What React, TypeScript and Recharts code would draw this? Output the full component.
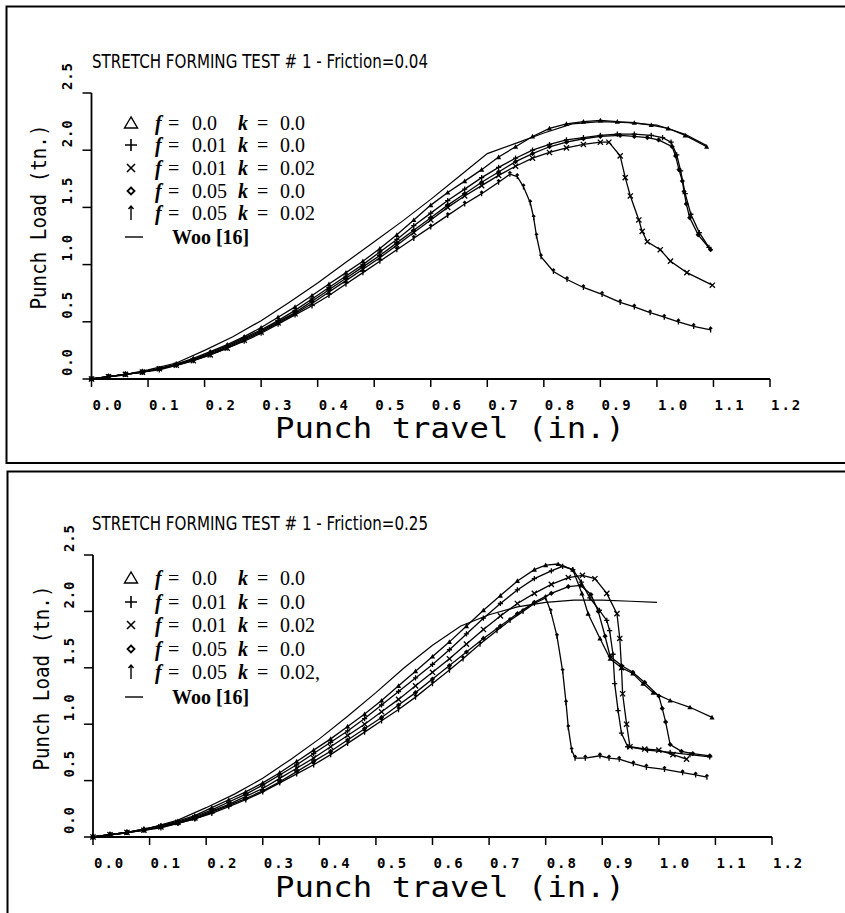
import React from "react";
import { LineChart, Line, XAxis, YAxis } from "recharts";

type Pt = [number, number];

const xTicks = [0, 0.1, 0.2, 0.3, 0.4, 0.5, 0.6, 0.7, 0.8, 0.9, 1.0, 1.1, 1.2];
const yTicks = [0, 0.5, 1.0, 1.5, 2.0, 2.5];

// Friction = 0.04
const topTri: Pt[] = [[0,0],[0.03,0.02],[0.06,0.04],[0.09,0.06],[0.12,0.09],[0.15,0.13],[0.18,0.18],[0.21,0.24],[0.24,0.3],[0.27,0.37],[0.3,0.45],[0.33,0.54],[0.36,0.63],[0.39,0.73],[0.42,0.83],[0.45,0.93],[0.48,1.03],[0.51,1.14],[0.54,1.26],[0.57,1.39],[0.6,1.52],[0.63,1.63],[0.66,1.73],[0.69,1.83],[0.72,1.94],[0.75,2.03],[0.78,2.12],[0.81,2.19],[0.84,2.23],[0.87,2.25],[0.9,2.26],[0.93,2.25],[0.96,2.24],[0.99,2.22],[1.02,2.19],[1.05,2.13],[1.088,2.03]];
const topPlus: Pt[] = [[0,0],[0.03,0.02],[0.06,0.04],[0.09,0.06],[0.12,0.09],[0.15,0.13],[0.18,0.17],[0.21,0.23],[0.24,0.29],[0.27,0.36],[0.3,0.43],[0.33,0.51],[0.36,0.6],[0.39,0.7],[0.42,0.8],[0.45,0.9],[0.48,1.0],[0.51,1.11],[0.54,1.22],[0.57,1.34],[0.6,1.45],[0.63,1.56],[0.66,1.66],[0.69,1.76],[0.72,1.85],[0.75,1.93],[0.78,2.0],[0.81,2.05],[0.84,2.09],[0.87,2.11],[0.9,2.13],[0.93,2.14],[0.96,2.14],[0.99,2.13],[1.01,2.11],[1.025,2.07],[1.035,1.96],[1.042,1.82],[1.05,1.62],[1.06,1.44],[1.075,1.28],[1.092,1.15]];
const topCross: Pt[] = [[0,0],[0.03,0.02],[0.06,0.04],[0.09,0.06],[0.12,0.09],[0.15,0.12],[0.18,0.16],[0.21,0.21],[0.24,0.27],[0.27,0.34],[0.3,0.41],[0.33,0.49],[0.36,0.57],[0.39,0.66],[0.42,0.76],[0.45,0.86],[0.48,0.96],[0.51,1.06],[0.54,1.17],[0.57,1.28],[0.6,1.39],[0.63,1.5],[0.66,1.6],[0.69,1.69],[0.72,1.78],[0.75,1.86],[0.78,1.93],[0.81,1.98],[0.84,2.02],[0.87,2.05],[0.9,2.07],[0.915,2.07],[0.935,1.95],[0.944,1.76],[0.953,1.6],[0.968,1.39],[0.974,1.29],[0.983,1.2],[1.006,1.13],[1.024,1.03],[1.053,0.93],[1.098,0.82]];
const topDiamond: Pt[] = [[0,0],[0.03,0.02],[0.06,0.04],[0.09,0.06],[0.12,0.09],[0.15,0.12],[0.18,0.17],[0.21,0.22],[0.24,0.28],[0.27,0.35],[0.3,0.42],[0.33,0.5],[0.36,0.58],[0.39,0.68],[0.42,0.78],[0.45,0.88],[0.48,0.98],[0.51,1.08],[0.54,1.19],[0.57,1.3],[0.6,1.41],[0.63,1.52],[0.66,1.62],[0.69,1.72],[0.72,1.81],[0.75,1.9],[0.78,1.97],[0.81,2.03],[0.84,2.07],[0.87,2.1],[0.9,2.12],[0.935,2.13],[0.96,2.12],[0.983,2.11],[1.003,2.09],[1.027,2.03],[1.033,1.95],[1.039,1.83],[1.045,1.73],[1.048,1.64],[1.052,1.53],[1.058,1.41],[1.073,1.26],[1.095,1.13]];
const topArrow: Pt[] = [[0,0],[0.03,0.02],[0.06,0.04],[0.09,0.06],[0.12,0.08],[0.15,0.12],[0.18,0.16],[0.21,0.21],[0.24,0.27],[0.27,0.33],[0.3,0.4],[0.33,0.48],[0.36,0.56],[0.39,0.64],[0.42,0.73],[0.45,0.83],[0.48,0.93],[0.51,1.03],[0.54,1.13],[0.57,1.23],[0.6,1.33],[0.63,1.43],[0.66,1.53],[0.69,1.62],[0.72,1.72],[0.74,1.79],[0.753,1.77],[0.764,1.68],[0.776,1.54],[0.782,1.41],[0.787,1.25],[0.795,1.07],[0.817,0.94],[0.841,0.87],[0.87,0.8],[0.903,0.74],[0.935,0.67],[0.96,0.63],[0.988,0.58],[1.013,0.54],[1.038,0.5],[1.065,0.46],[1.095,0.43]];
const topWoo: Pt[] = [[0,0],[0.05,0.03],[0.1,0.08],[0.15,0.14],[0.2,0.25],[0.25,0.37],[0.3,0.51],[0.35,0.67],[0.4,0.84],[0.45,1.02],[0.5,1.2],[0.55,1.38],[0.6,1.57],[0.65,1.77],[0.7,1.97],[0.75,2.06],[0.8,2.15],[0.85,2.23],[0.9,2.25],[0.95,2.24],[1.0,2.22],[1.05,2.14],[1.088,2.04]];

// Friction = 0.25
const botTri: Pt[] = [[0,0],[0.03,0.02],[0.06,0.04],[0.09,0.07],[0.12,0.1],[0.15,0.14],[0.18,0.19],[0.21,0.26],[0.24,0.33],[0.27,0.4],[0.3,0.48],[0.33,0.57],[0.36,0.67],[0.39,0.77],[0.42,0.87],[0.45,0.98],[0.48,1.09],[0.51,1.21],[0.54,1.34],[0.57,1.47],[0.6,1.6],[0.63,1.73],[0.66,1.87],[0.69,2.01],[0.72,2.14],[0.75,2.27],[0.78,2.37],[0.8,2.41],[0.822,2.42],[0.848,2.37],[0.864,2.16],[0.875,1.98],[0.896,1.76],[0.914,1.58],[0.934,1.5],[0.954,1.45],[0.972,1.36],[0.99,1.28],[1.02,1.21],[1.055,1.15],[1.094,1.06]];
const botPlus: Pt[] = [[0,0],[0.03,0.02],[0.06,0.04],[0.09,0.07],[0.12,0.1],[0.15,0.13],[0.18,0.18],[0.21,0.24],[0.24,0.31],[0.27,0.38],[0.3,0.46],[0.33,0.55],[0.36,0.64],[0.39,0.74],[0.42,0.84],[0.45,0.94],[0.48,1.05],[0.51,1.17],[0.54,1.29],[0.57,1.41],[0.6,1.53],[0.63,1.66],[0.66,1.8],[0.69,1.94],[0.72,2.07],[0.75,2.19],[0.78,2.29],[0.81,2.36],[0.83,2.4],[0.848,2.37],[0.863,2.26],[0.878,2.12],[0.895,2.01],[0.908,1.92],[0.913,1.83],[0.919,1.62],[0.922,1.36],[0.928,1.12],[0.934,0.92],[0.945,0.8],[0.98,0.77],[1.02,0.75],[1.055,0.73],[1.09,0.71]];
const botCross: Pt[] = [[0,0],[0.03,0.02],[0.06,0.04],[0.09,0.06],[0.12,0.09],[0.15,0.13],[0.18,0.17],[0.21,0.23],[0.24,0.29],[0.27,0.36],[0.3,0.43],[0.33,0.52],[0.36,0.61],[0.39,0.7],[0.42,0.8],[0.45,0.9],[0.48,1.0],[0.51,1.11],[0.54,1.22],[0.57,1.34],[0.6,1.46],[0.63,1.58],[0.66,1.71],[0.69,1.84],[0.72,1.96],[0.75,2.07],[0.78,2.16],[0.81,2.24],[0.84,2.3],[0.865,2.32],[0.887,2.29],[0.908,2.16],[0.926,1.98],[0.931,1.76],[0.934,1.5],[0.936,1.27],[0.943,1.0],[0.949,0.8],[0.975,0.78],[1.0,0.77],[1.025,0.73],[1.049,0.69]];
const botDiamond: Pt[] = [[0,0],[0.03,0.02],[0.06,0.04],[0.09,0.06],[0.12,0.09],[0.15,0.12],[0.18,0.16],[0.21,0.22],[0.24,0.28],[0.27,0.34],[0.3,0.41],[0.33,0.49],[0.36,0.58],[0.39,0.67],[0.42,0.76],[0.45,0.86],[0.48,0.96],[0.51,1.06],[0.54,1.17],[0.57,1.28],[0.6,1.4],[0.63,1.52],[0.66,1.64],[0.69,1.76],[0.72,1.87],[0.75,1.98],[0.78,2.08],[0.81,2.16],[0.84,2.22],[0.862,2.23],[0.88,2.15],[0.893,2.0],[0.905,1.78],[0.914,1.6],[0.934,1.52],[0.954,1.46],[0.975,1.37],[1.0,1.25],[1.006,1.14],[1.012,1.02],[1.02,0.82],[1.04,0.76],[1.06,0.74],[1.09,0.72]];
const botArrow: Pt[] = [[0,0],[0.03,0.02],[0.06,0.04],[0.09,0.06],[0.12,0.08],[0.15,0.12],[0.18,0.16],[0.21,0.21],[0.24,0.27],[0.27,0.33],[0.3,0.4],[0.33,0.48],[0.36,0.56],[0.39,0.64],[0.42,0.73],[0.45,0.83],[0.48,0.93],[0.51,1.03],[0.54,1.13],[0.57,1.24],[0.6,1.36],[0.63,1.48],[0.654,1.58],[0.684,1.71],[0.714,1.83],[0.737,1.92],[0.76,2.0],[0.78,2.07],[0.8,2.12],[0.809,2.0],[0.82,1.78],[0.83,1.47],[0.836,1.19],[0.84,0.97],[0.846,0.77],[0.852,0.7],[0.87,0.7],[0.896,0.72],[0.912,0.7],[0.93,0.69],[0.955,0.65],[0.978,0.62],[1.01,0.6],[1.042,0.57],[1.065,0.55],[1.085,0.53]];
const botWoo: Pt[] = [[0,0],[0.05,0.03],[0.1,0.08],[0.15,0.15],[0.2,0.26],[0.25,0.38],[0.3,0.52],[0.35,0.69],[0.4,0.87],[0.45,1.07],[0.5,1.28],[0.55,1.5],[0.6,1.7],[0.65,1.87],[0.7,1.97],[0.75,2.04],[0.8,2.08],[0.85,2.1],[0.9,2.1],[0.95,2.09],[0.997,2.08]];

const legendF = ["0.0", "0.01", "0.01", "0.05", "0.05"];
const legendK = ["0.0", "0.0", "0.02", "0.0", "0.02"];

type Kind = "tri" | "plus" | "cross" | "diamond" | "arrow" | "none";
const kinds: Kind[] = ["tri", "plus", "cross", "diamond", "arrow"];

const MONO = "'DejaVu Sans Mono', 'Liberation Mono', monospace";
const SERIF = "'Liberation Serif', 'DejaVu Serif', serif";

const AXIS_W = 30; // room reserved for the y axis
const AXIS_H = 30; // room reserved for the x axis

const toRows = (pts: Pt[]) => pts.map(([x, y]) => ({ x, y }));

function Marker({ cx, cy, kind, s = 2.6 }: { cx: number; cy: number; kind: Kind; s?: number }) {
  if (cx == null || cy == null) return null;
  const st = { stroke: "#000", strokeWidth: 1.3, fill: "none" };
  switch (kind) {
    case "tri":
      return <polygon points={`${cx},${cy - s} ${cx - s},${cy + s * 0.8} ${cx + s},${cy + s * 0.8}`} fill="#000" />;
    case "plus":
      return <path d={`M${cx - s},${cy}H${cx + s}M${cx},${cy - s}V${cy + s}`} {...st} />;
    case "cross":
      return <path d={`M${cx - s},${cy - s}L${cx + s},${cy + s}M${cx - s},${cy + s}L${cx + s},${cy - s}`} {...st} />;
    case "diamond":
      return <polygon points={`${cx},${cy - s} ${cx + s},${cy} ${cx},${cy + s} ${cx - s},${cy}`} fill="#000" />;
    case "arrow":
      return <path d={`M${cx},${cy + s}V${cy - s}M${cx - 1.6},${cy - s + 1.6}L${cx},${cy - s}L${cx + 1.6},${cy - s + 1.6}`} {...st} />;
    default:
      return null;
  }
}

function LegendSymbol({ kind, x, y }: { kind: Kind; x: number; y: number }) {
  const st = { stroke: "#000", strokeWidth: 1.4, fill: "none" };
  switch (kind) {
    case "tri":
      return <polygon points={`${x},${y - 6} ${x - 6.5},${y + 5} ${x + 6.5},${y + 5}`} {...st} />;
    case "plus":
      return <path d={`M${x - 6},${y}H${x + 6}M${x},${y - 6}V${y + 6}`} {...st} strokeWidth={1.6} />;
    case "cross":
      return <path d={`M${x - 4},${y - 4}L${x + 4},${y + 4}M${x - 4},${y + 4}L${x + 4},${y - 4}`} {...st} strokeWidth={1.6} />;
    case "diamond":
      return <polygon points={`${x},${y - 3.5} ${x + 3.5},${y} ${x},${y + 3.5} ${x - 3.5},${y}`} {...st} strokeWidth={1.8} />;
    case "arrow":
      return <path d={`M${x},${y + 7}V${y - 7}M${x - 2.5},${y - 4}L${x},${y - 7}L${x + 2.5},${y - 4}`} {...st} />;
    default:
      return <path d={`M${x - 7},${y}H${x + 11}`} {...st} />;
  }
}

const XTick = (p: any) => (
  <text x={p.x + 1} y={p.y + 23} fontFamily={MONO} fontWeight="bold" fontSize={14} letterSpacing={2} fill="#000">
    {Number(p.payload.value).toFixed(1)}
  </text>
);

const YTick = (p: any) => (
  <text
    transform={`translate(${p.x - 10.5},${p.y - 3}) rotate(-90)`}
    fontFamily={MONO}
    fontWeight="bold"
    fontSize={14}
    letterSpacing={0.8}
    fill="#000"
  >
    {Number(p.payload.value).toFixed(1)}
  </text>
);

type PanelProps = {
  top: number;
  height: number;
  plot: { left: number; right: number; top: number; bottom: number };
  series: Pt[][];
  woo: Pt[];
  title: string;
  frame: { x: number; y: number };
  titleY: number;
  yLabel: { x: number; y: number };
  xLabelY: number;
  legendRows: number[];
  kTail: string;
};

function Panel(props: PanelProps) {
  const { top, height, plot, series, woo, title, frame, titleY, yLabel, xLabelY, legendRows, kTail } = props;
  const CH = 460;
  const margin = {
    top: plot.top,
    left: plot.left - AXIS_W,
    right: 845 - plot.right,
    bottom: CH - plot.bottom - AXIS_H,
  };
  return (
    <div style={{ position: "absolute", left: 0, top, width: 845, height, overflow: "hidden" }}>
      <LineChart width={845} height={CH} margin={margin}>
        <XAxis
          type="number"
          dataKey="x"
          domain={[0, 1.2]}
          ticks={xTicks}
          height={AXIS_H}
          tickSize={8}
          tickMargin={0}
          axisLine={{ stroke: "#000", strokeWidth: 1.8 }}
          tickLine={{ stroke: "#000", strokeWidth: 1.5 }}
          tick={<XTick />}
          allowDuplicatedCategory={false}
          interval={0}
        />
        <YAxis
          type="number"
          dataKey="y"
          domain={[0, 2.5]}
          ticks={yTicks}
          width={AXIS_W}
          tickSize={9}
          tickMargin={0}
          axisLine={{ stroke: "#000", strokeWidth: 1.8 }}
          tickLine={{ stroke: "#000", strokeWidth: 1.5 }}
          tick={<YTick />}
          interval={0}
        />
        <Line
          data={toRows(woo)}
          dataKey="y"
          type="linear"
          stroke="#000"
          strokeWidth={1.2}
          dot={false}
          activeDot={false}
          isAnimationActive={false}
        />
        {series.map((pts, i) => (
          <Line
            key={kinds[i]}
            data={toRows(pts)}
            dataKey="y"
            type="linear"
            stroke="#000"
            strokeWidth={1.3}
            dot={(p: any) => <Marker key={`${kinds[i]}-${p.index}`} cx={p.cx} cy={p.cy} kind={kinds[i]} />}
            activeDot={false}
            isAnimationActive={false}
          />
        ))}
      </LineChart>
      <svg width={845} height={height} style={{ position: "absolute", left: 0, top: 0, pointerEvents: "none" }}>
        <rect x={frame.x} y={frame.y} width={860} height={height - frame.y + (top === 0 ? -1 : 20)} fill="none" stroke="#000" strokeWidth={2} />
        <text x={92} y={titleY} fontFamily="'DejaVu Sans', sans-serif" fontSize={20} textLength={336} lengthAdjust="spacingAndGlyphs" fill="#000">
          {title}
        </text>
        <text
          transform={`translate(${yLabel.x},${yLabel.y}) rotate(-90)`}
          textAnchor="middle"
          fontFamily={MONO}
          fontSize={21}
          textLength={185}
          lengthAdjust="spacingAndGlyphs"
          fill="#000"
        >
          Punch Load (tn.)
        </text>
        <text
          x={450}
          y={xLabelY}
          textAnchor="middle"
          fontFamily={MONO}
          fontSize={28}
          textLength={350}
          lengthAdjust="spacingAndGlyphs"
          fill="#000"
        >
          Punch travel (in.)
        </text>
        {legendRows.map((cy, i) => {
          if (i === 5) {
            return (
              <g key="woo">
                <LegendSymbol kind="none" x={132} y={cy} />
                <text x={172} y={cy + 7} fontFamily={SERIF} fontSize={20} fontWeight="bold" fill="#000">
                  Woo [16]
                </text>
              </g>
            );
          }
          return (
            <g key={i}>
              <LegendSymbol kind={kinds[i]} x={131} y={cy} />
              <text y={cy + 7} fontFamily={SERIF} fontSize={20} fill="#000">
                <tspan x={155} fontStyle="italic" fontWeight="bold">f</tspan>
                <tspan x={168}>=</tspan>
                <tspan x={192}>{legendF[i]}</tspan>
                <tspan x={238} fontStyle="italic" fontWeight="bold">k</tspan>
                <tspan x={257}>=</tspan>
                <tspan x={280}>{legendK[i] + (i === 4 ? kTail : "")}</tspan>
              </text>
            </g>
          );
        })}
      </svg>
    </div>
  );
}

export default function App() {
  return (
    <div style={{ position: "absolute", left: 0, top: 0, width: 845, height: 913, background: "#fff", overflow: "hidden" }}>
      <Panel
        top={0}
        height={464}
        plot={{ left: 91.5, right: 770, top: 93, bottom: 379 }}
        series={[topTri, topPlus, topCross, topDiamond, topArrow]}
        woo={topWoo}
        title="STRETCH FORMING TEST # 1 - Friction=0.04"
        frame={{ x: 6.5, y: 6.5 }}
        titleY={68}
        yLabel={{ x: 46, y: 217 }}
        xLabelY={438}
        legendRows={[123, 145, 168, 191, 213, 237]}
        kTail=""
      />
      <Panel
        top={462}
        height={451}
        plot={{ left: 93, right: 772, top: 93, bottom: 375 }}
        series={[botTri, botPlus, botCross, botDiamond, botArrow]}
        woo={botWoo}
        title="STRETCH FORMING TEST # 1 - Friction=0.25"
        frame={{ x: 7.5, y: 9.5 }}
        titleY={68}
        yLabel={{ x: 49, y: 216 }}
        xLabelY={435}
        legendRows={[116, 140, 163, 187, 210, 235]}
        kTail=","
      />
    </div>
  );
}
